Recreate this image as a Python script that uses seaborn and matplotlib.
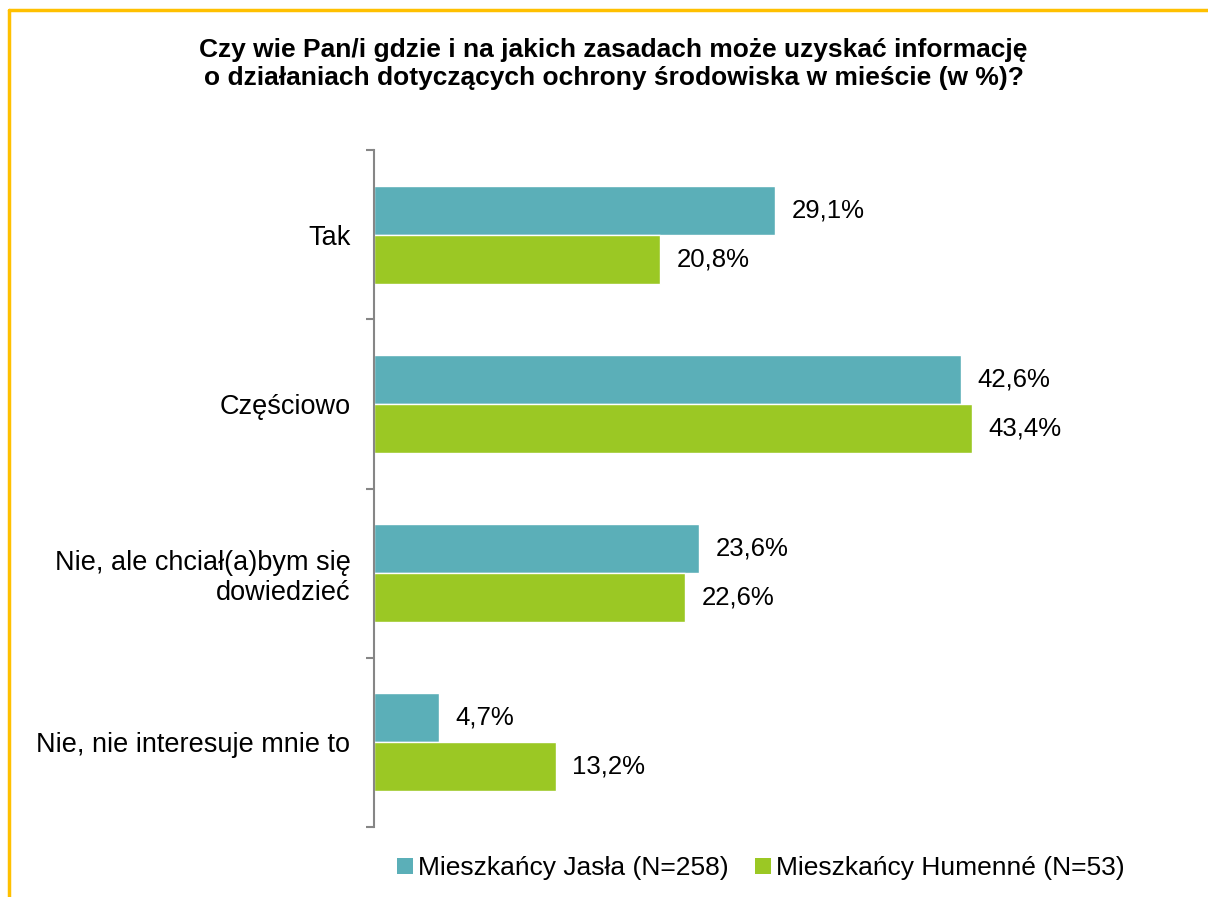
import pandas as pd
import numpy as np
import matplotlib.pyplot as plt
import seaborn as sns
from matplotlib.patches import Patch
from matplotlib.lines import Line2D

# Data
categories = ['Tak', 'Częściowo', 'Nie, ale chciał(a)bym się\ndowiedzieć', 'Nie, nie interesuje mnie to']
series_names = ['Mieszkańcy Jasła (N=258)', 'Mieszkańcy Humenné (N=53)']
jaslo = [29.1, 42.6, 23.6, 4.7]
humenne = [20.8, 43.4, 22.6, 13.2]
colors = ['#5BAFB8', '#9BC824']

title = ('Czy wie Pan/i gdzie i na jakich zasadach może uzyskać informację\n'
         'o działaniach dotyczących ochrony środowiska w mieście (w %)?')

df = pd.DataFrame({
    'kategoria': categories * 2,
    'grupa': [series_names[0]] * 4 + [series_names[1]] * 4,
    'wartosc': jaslo + humenne,
})

sns.set_style('white')
plt.rcParams['font.family'] = ['Liberation Sans', 'DejaVu Sans']
plt.rcParams['text.color'] = 'black'
plt.rcParams['ytick.labelcolor'] = 'black'

fig = plt.figure(figsize=(12.08, 8.97), dpi=100)
ax = fig.add_axes([0.3096, 0.078, 0.684, 0.7547])

sns.barplot(data=df, y='kategoria', x='wartosc', hue='grupa', order=categories,
            hue_order=series_names, palette=colors, orient='h', width=0.58,
            saturation=1, legend=False, ax=ax)

ax.set_xlim(0, 60)
ax.set_ylim(3.5, -0.5)
ax.set_xlabel('')
ax.set_ylabel('')

# value labels
for cont in ax.containers:
    labels = [f'{b.get_width():.1f}%'.replace('.', ',') for b in cont]
    ax.bar_label(cont, labels=labels, padding=12, fontsize=18.5, color='black')

# y axis: ticks at category boundaries, labels at centers
ax.set_yticks(np.arange(-0.5, 4, 1))
ax.set_yticklabels([])
ax.set_yticks(np.arange(4), minor=True)
ax.set_yticklabels(categories, minor=True, fontsize=19.5, color='black')
ax.tick_params(axis='y', which='major', direction='out', length=6, width=1.5,
               color='#868686', left=True)
ax.tick_params(axis='y', which='minor', length=0, pad=17)
ax.set_xticks([])

for s in ['top', 'right', 'bottom']:
    ax.spines[s].set_visible(False)
ax.spines['left'].set_color('#868686')
ax.spines['left'].set_linewidth(1.5)

fig.text(0.508, 0.929, title, ha='center', va='center', fontsize=19,
         fontweight='bold', linespacing=1.2, color='black')

handles = [Patch(facecolor=c, edgecolor='none') for c in colors]
fig.legend(handles, series_names, loc='center', bbox_to_anchor=(0.63, 0.032),
           ncol=2, frameon=False, fontsize=19, handlelength=0.6, handleheight=0.6,
           handletextpad=0.2, columnspacing=1.0, labelcolor='black')

# gold frame (top and left edges)
frame_col = '#FFC000'
fig.add_artist(Line2D([9 / 1208, 1], [1 - 10 / 897] * 2, color=frame_col, lw=2.5,
                      transform=fig.transFigure))
fig.add_artist(Line2D([9 / 1208] * 2, [0, 1 - 10 / 897], color=frame_col, lw=2.5,
                      transform=fig.transFigure))

plt.savefig('out.png', dpi=100)
